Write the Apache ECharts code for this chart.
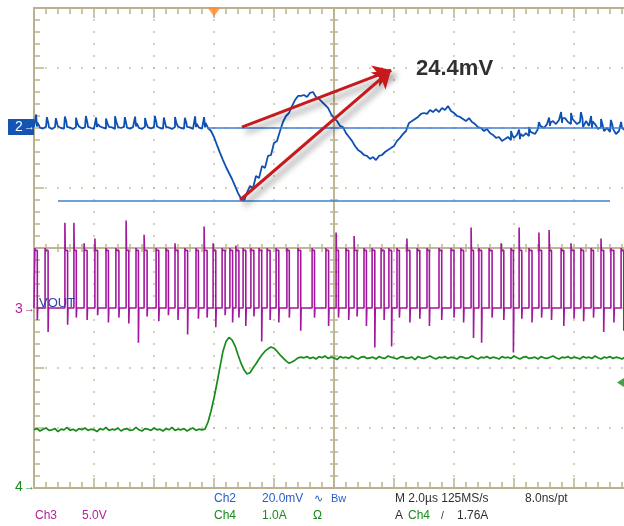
<!DOCTYPE html>
<html><head><meta charset="utf-8">
<script src="https://cdn.jsdelivr.net/npm/echarts@6/dist/echarts.min.js"></script>
<style>html,body{margin:0;padding:0;background:#fff}#c{width:624px;height:526px}</style>
</head><body><div id="c"></div>
<script>
// ---- horizontal: 2.0 µs/div, trigger at 0 µs ----
const timeMinUs = -6, timeMaxUs = 14, timePerDivUs = 2;
// ---- vertical: 8 divisions ----
const divMin = -4, divMax = 4;
// channel settings (position in divisions, units per division)
const ch2Pos = 2,  ch2PerDiv = 20;   // mV
const ch3Pos = -1, ch3PerDiv = 5;    // V
const ch4Pos = -4, ch4PerDiv = 1;    // A

// Ch2 (output voltage deviation, mV) sampled every 0.1 µs from -6 µs
const ch2StartUs = -6.0, ch2StepUs = 0.1;
const ch2mV = [
0.3, 0.5, 0.1, -0.2, 0.4, 0.2, -0.3, 0.3, 0.5, 0.0,
-0.2, 0.4, 0.1, -0.3, 0.3, 0.5, -0.1, 0.2, 0.4, 0.0,
-0.3, 0.3, 0.5, 0.1, -0.2, 0.4, 0.2, -0.3, 0.3, 0.0,
0.4, 0.1, -0.2, 0.3, 0.5, 0.0, -0.3, 0.4, 0.2, -0.1,
0.3, 0.5, 0.0, -0.2, 0.4, 0.1, -0.3, 0.3, 0.5, 0.0,
-0.2, 0.4, 0.2, -0.3, 0.3, 0.1, -0.2, 0.2, 0.0, -1.0,
-3.0, -5.7, -8.3, -10.7, -13.0, -15.0, -17.0, -19.3, -21.7, -23.5,
-24.4, -21.5, -19.3, -20.0, -16.0, -16.7, -12.7, -13.3, -9.3, -9.0,
-5.0, -4.3, -1.0, 2.0, 4.0, 5.0, 7.3, 9.3, 10.7, 10.7,
11.0, 10.3, 11.7, 12.0, 10.3, 9.7, 8.7, 7.7, 6.7, 4.7,
3.3, 2.3, 0.7, 0.3, -1.7, -3.0, -4.3, -6.0, -7.3, -8.0,
-9.0, -9.3, -10.3, -9.7, -10.7, -9.3, -9.0, -8.0, -7.3, -6.7,
-6.0, -4.3, -3.3, -2.0, -1.0, 1.7, 2.3, 3.0, 3.7, 4.7,
5.0, 4.7, 6.0, 5.3, 6.3, 5.3, 6.7, 6.0, 7.3, 5.7,
5.0, 4.0, 3.7, 3.0, 2.3, 3.3, 2.0, 1.3, 0.3, 0.0,
-1.0, -0.3, -1.7, -2.3, -3.3, -3.0, -4.3, -3.7, -3.0, -4.0,
-3.3, -2.3, -3.7, -2.7, -1.7, -2.7, -1.0, -2.0, -0.3, 0.7,
0.0, 1.3, 0.7, 2.3, 1.3, 2.7, 1.7, 3.3, 2.0, 1.3,
3.0, 1.3, 2.0, 0.3, 2.3, 0.7, 0.0, 1.3, -0.3, 0.3,
-1.0, 0.0, -1.3, -0.3, -2.0, -1.0, 0.0, -0.7
];
// Ch2 switching spikes: time, peak value, value just after the spike
const ch2SpikeUs = [-5.93,-5.57,-5.27,-4.97,-4.6,-4.27,-3.93,-3.6,-3.3,-2.97,-2.63,-2.3,-1.97,-1.67,-1.3,-0.97,-0.63,-0.33,
  9.9,10.17,10.5,10.83,11.17,11.57,11.9,12.23,12.57,12.9,13.23,13.57];
const ch2SpikePeakMV = [4.5,3.6,3.3,3.8,3.4,4.0,3.5,3.2,3.9,3.6,3.8,3.3,4.0,3.5,3.7,3.4,3.9,3.6,
  -1.0,-0.5,0.3,2.0,3.5,5.3,5.0,5.3,4.0,3.0,2.7,2.0];
const ch2SpikeAfterMV = [1.8,1.5,1.2,2.0,1.4,1.7,1.3,1.5,1.9,1.2,1.6,1.4,1.8,1.3,1.5,1.6,1.4,1.7,
  -2.5,-2.0,-1.3,0.7,1.8,3.3,3.0,3.3,2.2,1.2,1.0,0.5];

// Ch4 (current, A) sampled every 0.1 µs from -6 µs
const ch4StartUs = -6.0, ch4StepUs = 0.1;
const ch4A = [
0.97, 0.99, 0.95, 0.98, 1.00, 0.96, 0.97, 0.99, 0.94, 0.98,
0.97, 1.01, 0.96, 0.98, 0.95, 0.99, 0.97, 1.00, 0.96, 0.98,
0.97, 0.94, 0.99, 0.97, 1.01, 0.96, 0.98, 0.97, 1.00, 0.95,
0.98, 0.99, 0.96, 0.97, 1.01, 0.97, 0.95, 0.99, 0.98, 0.96,
1.00, 0.97, 0.98, 0.95, 0.99, 0.97, 1.01, 0.96, 0.98, 0.97,
0.99, 0.95, 0.98, 1.00, 0.96, 0.98, 0.97,
0.98, 1.10, 1.28, 1.50, 1.75, 2.02, 2.28, 2.44, 2.51, 2.47,
2.37, 2.22, 2.08, 1.97, 1.90, 1.92, 2.00, 2.07, 2.15, 2.22,
2.28, 2.32, 2.35, 2.33, 2.28, 2.22, 2.17, 2.12, 2.08, 2.10,
2.13, 2.17, 2.18,
2.17, 2.19, 2.16, 2.18, 2.15, 2.19, 2.17, 2.20, 2.16, 2.18,
2.17, 2.14, 2.19, 2.17, 2.18, 2.16, 2.20, 2.17, 2.15, 2.18,
2.19, 2.16, 2.17, 2.18, 2.15, 2.19, 2.17, 2.16, 2.20, 2.18,
2.17, 2.15, 2.18, 2.19, 2.16, 2.17, 2.18, 2.14, 2.19, 2.17,
2.16, 2.18, 2.20, 2.17, 2.15, 2.18, 2.17, 2.19, 2.16, 2.18,
2.17, 2.15, 2.19, 2.18, 2.16, 2.17, 2.20, 2.17, 2.15, 2.18,
2.17, 2.19, 2.16, 2.18, 2.17, 2.15, 2.19, 2.17, 2.18, 2.16,
2.20, 2.17, 2.15, 2.18, 2.19, 2.16, 2.17, 2.18, 2.15, 2.19,
2.17, 2.16, 2.18, 2.20, 2.17, 2.15, 2.18, 2.17, 2.19, 2.16,
2.18, 2.17, 2.15, 2.19, 2.17, 2.18, 2.16, 2.20, 2.17, 2.15,
2.18, 2.17, 2.19, 2.16, 2.18, 2.17, 2.15, 2.18
];

// Ch3 (switch node, V): one entry per switching pulse
const ch3HighV = 4.8;
const ch3PulseT = [-5.97,-5.63,-4.97,-4.67,-4.33,-3.97,-3.6,-3.27,-2.93,-2.6,
 -2.33,-1.93,-1.6,-1.3,-0.97,-0.6,-0.33,-0.03,0.27,0.53,
 0.73,0.97,1.23,1.5,1.77,2.07,2.43,2.8,3.27,3.73,
 4.07,4.4,4.67,5.0,5.27,5.57,5.83,6.1,6.43,6.77,
 7.1,7.5,7.9,8.23,8.57,8.83,9.17,9.57,9.9,10.17,
 10.5,10.83,11.17,11.57,11.9,12.23,12.57,12.9,13.23,13.57];
const ch3PulseW = [0.08,0.1,0.09,0.08,0.1,0.09,0.08,0.1,0.09,0.08,
 0.1,0.09,0.08,0.1,0.09,0.08,0.1,0.09,0.1,0.09,
 0.1,0.09,0.1,0.09,0.1,0.09,0.08,0.09,0.08,0.09,
 0.08,0.09,0.1,0.08,0.09,0.1,0.09,0.08,0.1,0.09,
 0.08,0.09,0.1,0.09,0.08,0.09,0.1,0.09,0.08,0.09,
 0.1,0.09,0.08,0.09,0.1,0.09,0.08,0.09,0.1,0.09];
const ch3PulsePeakV = [5.0,5.0,7.1,7.1,5.4,5.8,5.0,5.0,7.3,5.0,
 6.1,5.0,5.0,5.4,5.0,5.0,6.8,5.4,5.0,5.0,
 5.2,5.0,5.0,5.0,5.0,5.0,5.0,5.0,5.0,5.0,
 6.3,5.0,6.0,5.0,5.0,5.0,5.0,5.0,5.8,5.0,
 5.0,5.0,5.0,5.0,6.7,5.0,5.0,5.4,5.0,6.7,
 5.0,6.3,6.5,5.0,5.4,5.0,5.0,5.8,5.0,5.0];
const ch3PulseLowV = [-1.0,-2.0,-1.4,-0.8,-1.0,-0.6,-1.2,-0.8,-1.3,-2.9,
 -0.7,-1.1,-0.6,-1.0,-2.2,-0.9,-0.8,-1.6,-0.6,-1.2,
 -0.8,-1.5,-0.7,-2.8,-1.0,-1.2,-0.8,-1.9,-0.8,-1.5,
 -0.8,-1.0,-0.7,-1.5,-3.3,-1.0,-3.2,-0.8,-1.2,-0.9,
 -1.5,-1.0,-0.8,-1.2,-2.5,-2.9,-0.8,-1.0,-3.7,-0.9,
 -1.2,-0.8,-1.0,-1.5,-0.9,-1.1,-0.8,-2.0,-1.2,-1.9];

// measurement annotation (Ch2 units)
const cursorLevelsMV = [0, -24.4];
const cursorFromUs = [-0.23, -5.2];
const cursorToUs = [14, 13.2];
const arrowFromUs = [0.93, 0.87];
const arrowFromMV = [0.3, -24.0];
const arrowToUs = 5.9, arrowToMV = 19.3;
const triggerTimeUs = 0, triggerLevelA = 1.76, triggerMarkUs = 13.55;

// ---- conversions to screen divisions ----
const d2 = v => ch2Pos + v / ch2PerDiv;
const d3 = v => ch3Pos + v / ch3PerDiv;
const d4 = v => ch4Pos + v / ch4PerDiv;

const ch2Pts = ch2mV.map((v, i) => [+(ch2StartUs + i * ch2StepUs).toFixed(3), v]);
ch2SpikeUs.forEach((t, i) => {
  ch2Pts.push([t, ch2SpikePeakMV[i]], [+(t + 0.05).toFixed(3), ch2SpikeAfterMV[i]]);
});
ch2Pts.sort((a, b) => a[0] - b[0]);
const ch2Data = ch2Pts.map(p => [p[0], d2(p[1])]);
const ch4Data = ch4A.map((v, i) => [+(ch4StartUs + i * ch4StepUs).toFixed(3), d4(v)]);
const ch3Data = [[timeMinUs, d3(0)]];
ch3PulseT.forEach((t, i) => {
  const w = ch3PulseW[i];
  ch3Data.push([t, d3(0)], [t, d3(ch3PulsePeakV[i])], [t + 0.012, d3(ch3HighV)],
    [t + w, d3(ch3HighV)], [t + w, d3(ch3PulseLowV[i])], [t + w + 0.015, d3(0)]);
});
ch3Data.push([timeMaxUs, d3(0)]);

const G = '#bab28e';
function xAx(extra) {
  return Object.assign({
    type: 'value', min: timeMinUs, max: timeMaxUs, interval: timePerDivUs,
    axisLabel: { show: false }, splitLine: { show: false },
    axisLine: { show: true, onZero: false, lineStyle: { color: G, width: 2 } },
    axisTick: { show: true, inside: true, length: 10, lineStyle: { color: G, width: 1.5 } },
    minorTick: { show: true, splitNumber: 5, length: 6, lineStyle: { color: G, width: 1.5 } }
  }, extra);
}
function yAx(extra) {
  return Object.assign({
    type: 'value', min: divMin, max: divMax, interval: 1,
    axisLabel: { show: false }, splitLine: { show: false },
    axisLine: { show: true, onZero: false, lineStyle: { color: G, width: 2 } },
    axisTick: { show: true, inside: true, length: 10, lineStyle: { color: G, width: 1.5 } },
    minorTick: { show: true, splitNumber: 5, length: 6, lineStyle: { color: G, width: 1.5 } }
  }, extra);
}
const dotted = { show: true, lineStyle: { color: G, width: 1.6, type: [1.6, 10.4], dashOffset: 0.8 } };
const centerLine = { show: true, onZero: true, onZeroAxisIndex: 0, lineStyle: { color: G, width: 1.5 } };
const smallTick = inside => ({ show: true, inside: inside, length: 4, lineStyle: { color: G, width: 1.5 } });
const smallMinor = { show: true, splitNumber: 5, length: 4, lineStyle: { color: G, width: 1.5 } };

const chart = echarts.init(document.getElementById('c'), null, { renderer: 'canvas' });
const txt = (x, y, s, color, size, extra) => Object.assign({
  type: 'text', left: x, top: y, z: 50,
  style: { text: s, fill: color, font: (size || 12) + 'px "Liberation Sans", Arial, sans-serif' }
}, extra || {});

chart.setOption({
  animation: false,
  backgroundColor: '#ffffff',
  grid: { left: 34, top: 8, width: 600, height: 480, containLabel: false, outerBoundsMode: 'none' },
  xAxis: [
    xAx({ position: 'bottom', splitLine: dotted }),
    xAx({ position: 'top' }),
    xAx({ position: 'bottom', axisLine: centerLine, axisTick: smallTick(true), minorTick: smallMinor }),
    xAx({ position: 'bottom', axisLine: centerLine, axisTick: smallTick(false), minorTick: smallMinor })
  ],
  yAxis: [
    yAx({ position: 'left', splitLine: dotted }),
    yAx({ position: 'left', offset: -300, axisTick: smallTick(true), minorTick: smallMinor,
      axisLine: { show: true, onZero: false, lineStyle: { color: G, width: 1.5 } } }),
    yAx({ position: 'left', offset: -300, axisTick: smallTick(false), minorTick: smallMinor,
      axisLine: { show: true, onZero: false, lineStyle: { color: G, width: 1.5 } } })
  ],
  series: [
    { name: 'Ch3', type: 'line', data: ch3Data, showSymbol: false, symbol: 'none', z: 3,
      lineStyle: { color: '#a3179f', width: 1.6 } },
    { name: 'Ch4', type: 'line', data: ch4Data, showSymbol: false, symbol: 'none', z: 4,
      lineStyle: { color: '#168a1a', width: 1.7 } },
    { name: 'Ch2', type: 'line', data: ch2Data, showSymbol: false, symbol: 'none', z: 5,
      lineStyle: { color: '#0e50b2', width: 1.8 } },
    { name: 'cursors', type: 'lines', coordinateSystem: 'cartesian2d', z: 6, symbol: 'none',
      lineStyle: { color: '#3f7fd0', width: 1.5, opacity: 1 },
      data: cursorLevelsMV.map((v, i) => ({ coords: [[cursorFromUs[i], d2(v)], [cursorToUs[i], d2(v)]] })) },
    { name: 'arrows', type: 'lines', coordinateSystem: 'cartesian2d', z: 7,
      symbol: ['none', 'arrow'], symbolSize: 17,
      lineStyle: { color: '#c81a1c', width: 3, opacity: 1, shadowBlur: 6, shadowColor: 'rgba(0,0,0,0.45)', shadowOffsetX: 4, shadowOffsetY: 5 },
      data: arrowFromUs.map((t, i) => ({ coords: [[t, d2(arrowFromMV[i])], [arrowToUs, d2(arrowToMV)]] })) },
    { name: 'trigger', type: 'scatter', clip: false, z: 8, silent: true,
      data: [
        { value: [triggerTimeUs, divMax], symbol: 'triangle', symbolRotate: 180, symbolSize: [13, 9], symbolOffset: [0, 4], itemStyle: { color: '#ff8a2a' } },
        { value: [triggerMarkUs, d4(triggerLevelA)], symbol: 'triangle', symbolRotate: 90, symbolSize: [9, 7], itemStyle: { color: '#168a1a' } }
      ] }
  ],
  graphic: [
    { type: 'rect', shape: { x: 8, y: 119, width: 26, height: 16 }, style: { fill: '#1654b4' }, z: 50 },
    txt(15, 120, '2', '#ffffff', 14),
    txt(24, 121, '→', '#ffffff', 11),
    txt(15, 302, '3', '#b0239f', 14),
    txt(24, 303, '→', '#b0239f', 11),
    txt(15, 480, '4', '#168a1a', 14),
    txt(24, 481, '→', '#168a1a', 11),
    txt(39, 297, 'VOUT', '#2c46a8', 13),
    { type: 'text', left: 416, top: 58, z: 50,
      style: { text: '24.4mV', fill: '#303030', font: 'bold 22px "Liberation Sans", Arial, sans-serif' } },
    txt(214, 493, 'Ch2', '#2a5fc4', 12),
    txt(262, 493, '20.0mV', '#2a5fc4', 12),
    txt(314, 493, '∿', '#2a5fc4', 11),
    txt(331, 493, 'Bw', '#2a5fc4', 11),
    txt(395, 493, 'M 2.0µs 125MS/s', '#303030', 12),
    txt(525, 493, '8.0ns/pt', '#303030', 12),
    txt(35, 510, 'Ch3', '#b0239f', 12),
    txt(82, 510, '5.0V', '#b0239f', 12),
    txt(214, 510, 'Ch4', '#168a1a', 12),
    txt(262, 510, '1.0A', '#168a1a', 12),
    txt(313, 510, 'Ω', '#168a1a', 12),
    txt(395, 510, 'A', '#303030', 12),
    txt(408, 510, 'Ch4', '#168a1a', 12),
    txt(441, 511, '/', '#303030', 10),
    txt(457, 510, '1.76A', '#303030', 12)
  ]
});
</script>
</body></html>
